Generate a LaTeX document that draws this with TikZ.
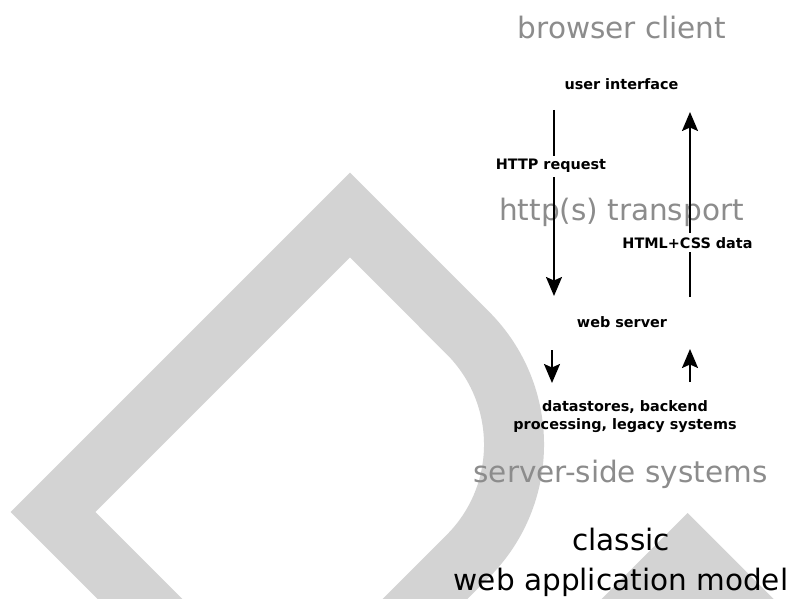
\documentclass[tikz,border=0pt]{standalone}
\usepackage{fontspec}
\setmainfont{DejaVu Sans}
\usetikzlibrary{arrows.meta}
\definecolor{shapegray}{RGB}{211,211,211}
\definecolor{labelgray}{RGB}{140,140,140}
\begin{document}
\begin{tikzpicture}[x=1pt,y=-1pt,
  big/.style={font=\fontsize{29.5}{40}\selectfont, inner sep=0pt},
  section/.style={big, text=labelgray, anchor=base},
  small/.style={font=\fontsize{14.4}{18}\selectfont\bfseries, inner sep=0pt},
  smallbase/.style={small, anchor=base},
  cut/.style={small, anchor=base, fill=white, inner xsep=2pt, inner ysep=4pt},
  arr/.style={line width=2pt, -{Stealth[length=19pt,width=16pt,inset=3.5pt]}},
  band/.style={draw=shapegray, line width=60pt, miter limit=10, line join=miter}
]
\useasboundingbox (0,0) rectangle (790,599);
\fill[white] (0,0) rectangle (790,599);
\begin{scope}
  \clip (0,0) rectangle (790,599);
  \draw[band] (173,632) -- (53,512) -- (350,215) -- (467.7,332.8)
     .. controls (529.4,394.5) and (529.5,494.5) .. (467.8,556.2) -- (380,644);
  \fill[shapegray] (687.5,513) -- (587.5,613) -- (787.5,613) -- cycle;
\end{scope}

% section titles (gray)
\node[section] (client) at (622,39) {browser client};
\node[section] (transport) at (621.5,220) {http(s) transport};
\node[section] (serverside) at (620.5,482) {server-side systems};

% components
\node[smallbase] (ui) at (621.5,90) {user interface};
\node[smallbase] (ws) at (622,327) {web server};
\node[small, align=center] (ds) at (625,417) {datastores, backend\\processing, legacy systems};

% connector end points
\coordinate (reqstart) at (554,110);
\coordinate (reqend) at (554,296);
\coordinate (respstart) at (690,297);
\coordinate (respend) at (690,112);
\coordinate (dbreqstart) at (552,350);
\coordinate (dbreqend) at (552,383);
\coordinate (dbrespstart) at (690,382);
\coordinate (dbrespend) at (690,349);

\draw[arr] (reqstart) -- (reqend);
\draw[arr] (respstart) -- (respend);
\draw[arr] (dbreqstart) -- (dbreqend);
\draw[arr] (dbrespstart) -- (dbrespend);

\node[cut] (reqlabel) at (551,170) {HTTP request};
\node[cut] (resplabel) at (687.5,248) {HTML+CSS data};

% caption
\node[big, align=center] (caption) at (621,562) {classic\\web application model};
\end{tikzpicture}
\end{document}
